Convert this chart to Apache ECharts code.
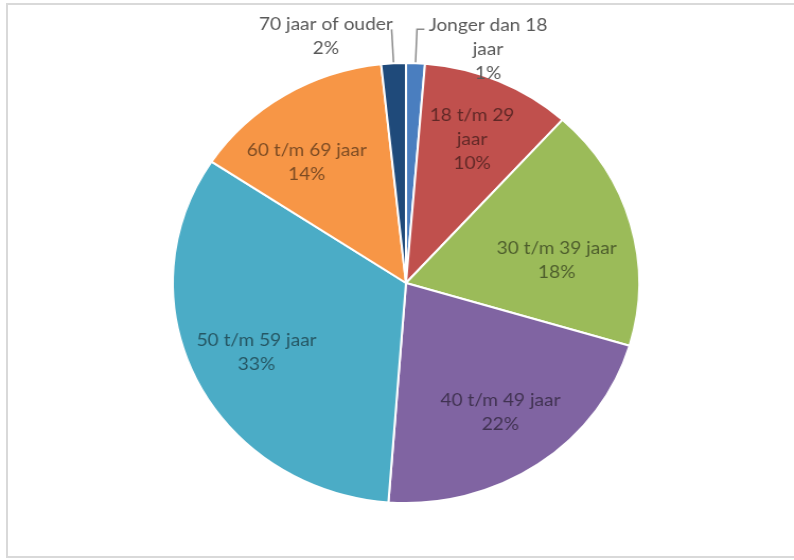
<!DOCTYPE html>
<html>
<head>
<meta charset="utf-8">
<script src="https://cdn.jsdelivr.net/npm/echarts@6/dist/echarts.min.js"></script>
<style>
html,body{margin:0;padding:0;width:794px;height:560px;overflow:hidden;background:#fff;}
#frame{position:absolute;left:6px;top:3px;width:900px;height:555px;box-sizing:border-box;border:2px solid #d9d9d9;}
#chart{position:absolute;left:0;top:0;width:749px;height:560px;transform:scaleX(1.06);transform-origin:0 0;}
</style>
</head>
<body>
<div id="frame"></div>
<div id="chart"></div>
<script>
const categories = ['Jonger dan 18 jaar','18 t/m 29 jaar','30 t/m 39 jaar','40 t/m 49 jaar','50 t/m 59 jaar','60 t/m 69 jaar','70 jaar of ouder'];
const labelLines = [['Jonger dan 18','jaar'],['18 t/m 29','jaar'],['30 t/m 39 jaar'],['40 t/m 49 jaar'],['50 t/m 59 jaar'],['60 t/m 69 jaar'],['70 jaar of ouder']];
const values = [1.3, 10.4, 17.9, 21.6, 33.1, 14.0, 1.7];
const colors = ['#4a7ebf','#c0504d','#9bbb59','#8064a2','#4bacc6','#f79646','#1f4a7a'];
const outsideIdx = [0, 6];

const FONT = 'Lato, "Noto Sans", sans-serif';
const total = values.reduce((a,b)=>a+b,0);

function pctText(i){ return Math.round(values[i] / total * 100) + '%'; }

// small label nudges to mimic the original best-fit label placement
const labelNudge = {2: [-9, 20], 5: [-12, 13]};

const mainData = values.map((v,i)=>{
  const isOut = outsideIdx.indexOf(i) >= 0;
  const lines = labelLines[i].concat([pctText(i)]);
  return {
    name: categories[i], value: v,
    itemStyle: {color: colors[i]},
    label: isOut ? {
      show: true, position: 'outside',
      distanceToLabelLine: i === 0 ? 4 : 0,
      formatter: lines.map(s=>'{c|' + s + '}').join('\n'),
      padding: i === 0 ? [40,0,0,0] : [14,0,0,0],
      rich: {c: {width: i === 0 ? 112 : 124, align: 'center', fontFamily: FONT, fontSize: 18, lineHeight: 24, color: '#595959'}}
    } : {show: false},
    labelLine: isOut ? {show: true, length2: i === 0 ? 7 : 0} : {show: false}
  };
});

const labelData = values.map((v,i)=>{
  const isOut = outsideIdx.indexOf(i) >= 0;
  return {
    name: categories[i], value: v,
    label: {show: !isOut, formatter: labelLines[i].concat([pctText(i)]).join('\n')}
  };
});

const chart = echarts.init(document.getElementById('chart'), null, {renderer: 'canvas'});
chart.setOption({
  animation: false,
  series: [
    {
      type: 'pie', center: [383, 283], radius: 220, startAngle: 90, clockwise: true,
      avoidLabelOverlap: false, silent: true,
      itemStyle: {borderColor: '#ffffff', borderWidth: 2},
      label: {fontFamily: FONT, fontSize: 18, color: '#595959', distanceToLabelLine: 4},
      labelLine: {length: 34, length2: 7, smooth: false, lineStyle: {color: '#8c8c8c', width: 1.5}},
      emphasis: {disabled: true},
      data: mainData
    },
    {
      type: 'pie', center: [383, 283], radius: [88, 220], startAngle: 90, clockwise: true,
      avoidLabelOverlap: false, silent: true,
      itemStyle: {color: 'rgba(0,0,0,0)', borderWidth: 0},
      label: {position: 'inside', fontFamily: FONT, fontSize: 18, lineHeight: 24, color: 'rgba(0,0,0,0.5)'},
      labelLine: {show: false},
      labelLayout: function (p) {
        const n = labelNudge[p.dataIndex];
        return n ? {dx: n[0], dy: n[1]} : {};
      },
      emphasis: {disabled: true},
      data: labelData
    }
  ]
});
</script>
</body>
</html>
